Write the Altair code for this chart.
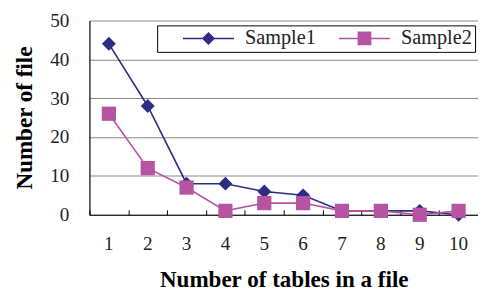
import altair as alt
import pandas as pd

categories = [1, 2, 3, 4, 5, 6, 7, 8, 9, 10]
sample1 = [44, 28, 8, 8, 6, 5, 1, 1, 1, 0]
sample2 = [26, 12, 7, 1, 3, 3, 1, 1, 0, 1]
series_names = ["Sample1", "Sample2"]
colors = ["#2C2C84", "#B753A3"]
legend_paths = [
    "M-4.33,0L4.33,0M0,-0.95L0.95,0L0,0.95L-0.95,0Z",
    "M-4.33,0L4.33,0M-1.05,-1.05L1.05,-1.05L1.05,1.05L-1.05,1.05Z",
]

rows = []
for c, a, b in zip(categories, sample1, sample2):
    rows.append({"tables": c, "files": a, "series": "Sample1"})
    rows.append({"tables": c, "files": b, "series": "Sample2"})
df = pd.DataFrame(rows)

W, H = 396, 198
FONT = "Liberation Serif"

xscale = alt.Scale(type="band", paddingInner=0, paddingOuter=0)
yscale = alt.Scale(domain=[0, 50])
cscale = alt.Scale(domain=series_names, range=colors)

y_axis = alt.Axis(
    title="Number of file",
    values=[0, 10, 20, 30, 40, 50],
    labelOverlap=False,
    ticks=False,
    grid=True,
    gridColor="#8a8a8a",
    gridWidth=1.2,
    domainColor="black",
    domainWidth=1.2,
    labelFont=FONT,
    labelFontSize=19.5,
    labelColor="#222",
    labelPadding=21,
    titleFont=FONT,
    titleFontSize=23.5,
    titleFontWeight="bold",
    titleColor="black",
    titlePadding=14,
)
y_enc = alt.Y("files:Q", scale=yscale, axis=y_axis)

base = alt.Chart(df)

x_main = alt.X(
    "tables:O",
    scale=xscale,
    axis=alt.Axis(
        title="Number of tables in a file",
        labelAngle=0,
        labelOverlap=False,
        ticks=False,
        grid=False,
        domainColor="black",
        domainWidth=1.2,
        labelFont=FONT,
        labelFontSize=19.5,
        labelColor="#222",
        labelPadding=20,
        titleFont=FONT,
        titleFontSize=23.5,
        titleFontWeight="bold",
        titleColor="black",
        titlePadding=16,
    ),
)
x_none = alt.X("tables:O", scale=xscale, axis=None)

line1 = base.transform_filter(alt.datum.series == "Sample1").mark_line(
    strokeWidth=1.6, color=colors[0]
).encode(x=x_main, y=y_enc)

line2 = base.transform_filter(alt.datum.series == "Sample2").mark_line(
    strokeWidth=1.6, color=colors[1]
).encode(x=x_none, y=y_enc)

pts1 = base.transform_filter(alt.datum.series == "Sample1").mark_point(
    shape="diamond", filled=True, size=200, opacity=1, color=colors[0]
).encode(x=x_none, y=y_enc)

pts2 = base.transform_filter(alt.datum.series == "Sample2").mark_point(
    shape="square", filled=True, size=210, opacity=1, color=colors[1]
).encode(x=x_none, y=y_enc)

leg = alt.Legend(
    orient="none",
    legendX=69,
    legendY=5,
    direction="horizontal",
    title=None,
    labelFont=FONT,
    labelFontSize=20.6,
    labelColor="#222",
    labelExpr="datum.label == 'Sample2' ? datum.label + '\u00a0\u00a0\u00a0\u00a0' : datum.label",
    symbolSize=144,
    symbolStrokeWidth=1.4,
    symbolOpacity=1,
    symbolOffset=39,
    labelOffset=27,
    strokeColor="black",
    fillColor="white",
    padding=3,
    columnPadding=-2,
)

legend_layer = base.mark_point(opacity=0).encode(
    x=alt.X(
        "tables:O",
        scale=xscale,
        axis=alt.Axis(
            orient="top",
            offset=-H,
            labels=False,
            domain=False,
            grid=False,
            title=None,
            ticks=True,
            tickBand="extent",
            tickSize=5,
            tickColor="black",
            tickWidth=1,
        ),
    ),
    y=y_enc,
    fill=alt.Fill("series:N", scale=cscale, legend=leg),
    stroke=alt.Stroke("series:N", scale=cscale, legend=leg),
    shape=alt.Shape(
        "series:N", scale=alt.Scale(domain=series_names, range=legend_paths), legend=leg
    ),
)

chart = (
    alt.layer(line1, line2, pts1, pts2, legend_layer)
    .resolve_axis(x="independent")
    .properties(
        width=W,
        height=H,
        autosize=alt.AutoSizeParams(type="none"),
        padding={"left": 83, "top": 10, "right": 0, "bottom": 76},
        background="white",
    )
    .configure_view(strokeOpacity=0)
)

chart.save("out.html", embed_options={"renderer": "svg", "actions": False})
